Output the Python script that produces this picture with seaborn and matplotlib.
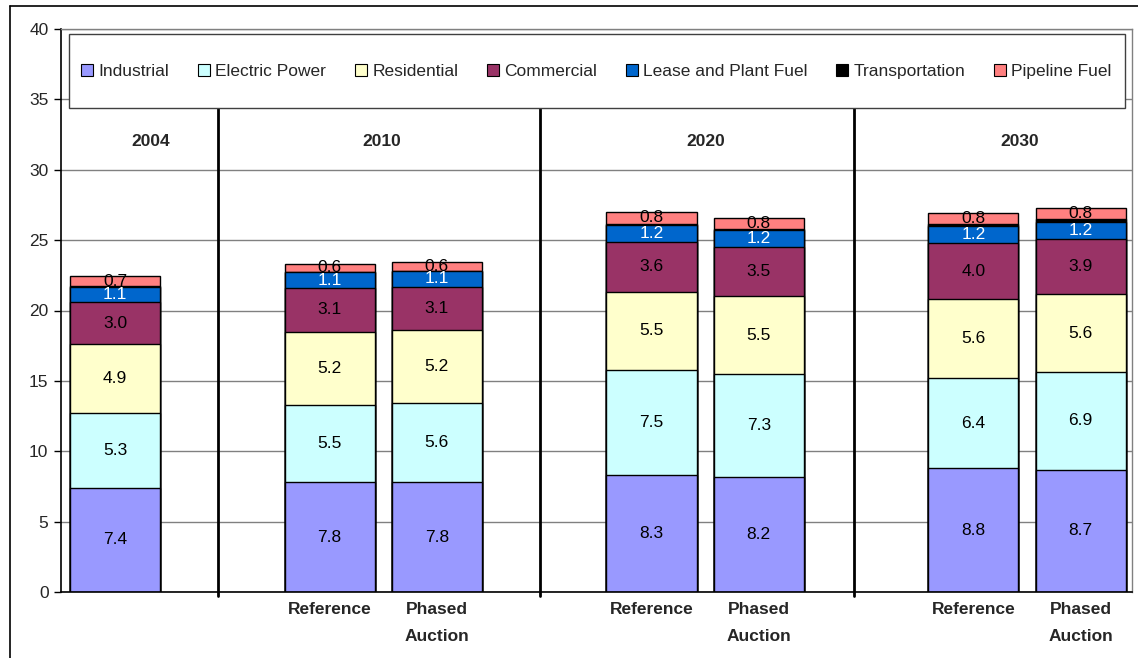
import numpy as np
import pandas as pd
import matplotlib.pyplot as plt
from matplotlib.lines import Line2D
from matplotlib.patches import Rectangle
import seaborn as sns

# ── Data ──────────────────────────────────────────────────────────────────────
positions = [0, 2, 3, 5, 6, 8, 9]
tick_labels = ["", "Reference", "Phased\nAuction", "Reference", "Phased\nAuction",
               "Reference", "Phased\nAuction"]
years = ["2004", "2010", "2020", "2030"]
year_x = [0.33, 2.49, 5.51, 8.43]
dividers = [0.96, 3.96, 6.89]

industrial = [7.4, 7.8, 7.8, 8.3, 8.2, 8.8, 8.7]
electric = [5.3, 5.5, 5.6, 7.5, 7.3, 6.4, 6.9]
residential = [4.9, 5.2, 5.2, 5.5, 5.5, 5.6, 5.6]
commercial = [3.0, 3.1, 3.1, 3.6, 3.5, 4.0, 3.9]
lease = [1.1, 1.1, 1.1, 1.2, 1.2, 1.2, 1.2]
transport = [0.02, 0.03, 0.03, 0.08, 0.1, 0.15, 0.2]
pipeline = [0.7, 0.6, 0.6, 0.8, 0.8, 0.8, 0.8]

series = {
    "Industrial": (industrial, "#9999FF", "black"),
    "Electric Power": (electric, "#CCFFFF", "black"),
    "Residential": (residential, "#FFFFCC", "black"),
    "Commercial": (commercial, "#993366", "black"),
    "Lease and Plant Fuel": (lease, "#0066CC", "white"),
    "Transportation": (transport, "#000000", None),
    "Pipeline Fuel": (pipeline, "#FF8080", "black"),
}

# ── Style ─────────────────────────────────────────────────────────────────────
sns.set_style("white")
plt.rcParams["font.family"] = ["Liberation Sans", "DejaVu Sans"]
FS = 12.5

fig = plt.figure(figsize=(11.38, 6.58), dpi=100)
W, H = 1138, 658
ax = fig.add_axes([61 / W, (H - 592) / H, (1132 - 61) / W, (592 - 29) / H])

# cumulative tops, drawn largest first so lower segments overlay
names = list(series.keys())
vals = np.array([series[n][0] for n in names])
cum = np.cumsum(vals, axis=0)
bottoms = cum - vals

for i in range(len(names) - 1, -1, -1):
    df = pd.DataFrame({"pos": positions, "top": cum[i]})
    sns.barplot(data=df, x="pos", y="top", native_scale=True, orient="x",
                color=series[names[i]][1], saturation=1, width=0.84,
                edgecolor="black", linewidth=1, errorbar=None, ax=ax)

# segment labels
for i, n in enumerate(names):
    lab_color = series[n][2]
    if lab_color is None:
        continue
    for j, p in enumerate(positions):
        v = vals[i, j]
        ax.text(p, bottoms[i, j] + v / 2, f"{v:.1f}", ha="center", va="center",
                fontsize=FS, color=lab_color, zorder=5)

# axes
ax.set_xlim(-0.503, 9.478)
ax.set_ylim(0, 40)
ax.set_yticks(range(0, 41, 5))
ax.yaxis.grid(True, color="#808080", linewidth=1)
ax.set_axisbelow(True)
ax.set_xticks(positions[1:])
ax.set_xticklabels(tick_labels[1:], fontweight="bold", fontsize=FS, linespacing=2.0,
                   va="top")
ax.tick_params(axis="x", length=0, pad=7)
ax.tick_params(axis="y", length=5, width=1, color="black", labelsize=FS, pad=4,
               direction="out", left=True)
ax.set_xlabel("")
ax.set_ylabel("")
for s in ["left", "bottom"]:
    ax.spines[s].set_color("black")
    ax.spines[s].set_linewidth(1.2)
for s in ["top", "right"]:
    ax.spines[s].set_color("#808080")
    ax.spines[s].set_linewidth(1)

# group dividers and year labels
for d in dividers:
    ax.plot([d, d], [-0.3, 35], color="black", linewidth=2, clip_on=False, zorder=4)
for yx, yr in zip(year_x, years):
    ax.text(yx, 32, yr, ha="center", va="center", fontsize=FS, fontweight="bold")

# legend box (drawn separately so it can be wider/taller than the entries)
ax.add_patch(Rectangle((0.0075, 0.8597), 0.986, 0.1313, transform=ax.transAxes,
                       facecolor="white", edgecolor="#404040", linewidth=1,
                       zorder=6))
handles = [plt.Rectangle((0, 0), 1, 1, facecolor=series[n][1], edgecolor="black",
                         linewidth=0.8) for n in names]
leg = ax.legend(handles, names, ncol=7, loc="center",
                bbox_to_anchor=(0.5, 0.925), fontsize=FS, frameon=False,
                handlelength=0.7, handleheight=0.7, handletextpad=0.3,
                columnspacing=1.65, borderpad=0, borderaxespad=0)
leg.set_zorder(7)

# outer chart border
fig.add_artist(Line2D([10 / W, 10 / W], [0, 1 - 6 / H], color="black", linewidth=1.2,
                      transform=fig.transFigure))
fig.add_artist(Line2D([10 / W, 1], [1 - 6 / H, 1 - 6 / H], color="black", linewidth=1.2,
                      transform=fig.transFigure))

fig.savefig("out.png", dpi=100)
